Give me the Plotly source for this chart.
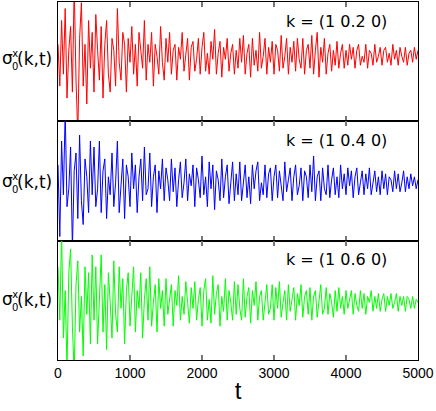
import plotly.graph_objects as go
from plotly.subplots import make_subplots

t = list(range(0, 5001, 25))

sigma_red = [
    0.2, -0.5, 0.6, -0.3, 0.8, -0.7, 0.1, 0.5, -0.6, 1.2, -0.4, -1.3, 0.3, 0.9, -0.5, 0.2, -0.8, 0.6, -0.2, 0.4,
    -0.6, 0.7, 0.1, -0.4, 0.5, -0.7, 0.2, 0.6, -0.3, -0.6, 0.3, 0.1, -0.5, 0.8, -0.1, -0.4, 0.4, 0.2, -0.6, 0.3,
    -0.1, 0.5, -0.3, 0.2, -0.5, 0.4, 0.1, -0.2, 0.6, -0.4, 0.2, -0.1, 0.4, -0.5, 0.2, 0.0, -0.3, 0.5, -0.1, -0.4,
    0.3, -0.1, 0.4, -0.3, 0.1, 0.2, -0.4, 0.15, -0.05, 0.4, -0.25, 0.0, 0.3, -0.4, 0.15, 0.25, -0.25, -0.05, 0.3, -0.3,
    0.15, 0.4, -0.25, 0.05, -0.3, 0.25, -0.05, 0.45, -0.3, 0.05, 0.25, -0.35, 0.15, -0.05, 0.3, -0.25, 0.05, 0.2, -0.3, 0.1,
    -0.2, 0.3, -0.1, 0.35, -0.3, 0.05, 0.2, -0.35, 0.3, -0.15, 0.1, -0.25, 0.4, -0.2, 0.0, 0.3, -0.3, 0.15, -0.1, 0.25,
    -0.3, 0.2, 0.1, -0.25, 0.35, -0.2, 0.0, 0.3, -0.3, 0.15, -0.1, 0.25, -0.25, 0.3, -0.05, -0.2, 0.3, -0.3, 0.1, 0.2,
    -0.2, 0.35, -0.3, 0.1, 0.4, -0.35, 0.15, -0.1, 0.3, -0.3, 0.05, 0.2, -0.25, 0.1, -0.15, 0.25, -0.2, 0.05, 0.2, -0.2,
    0.1, -0.15, 0.2, -0.05, 0.15, -0.2, 0.1, 0.2, -0.15, 0.0, -0.1, 0.2, -0.2, 0.1, 0.05, -0.15, 0.2, -0.1, 0.0, 0.15,
    -0.15, 0.1, 0.15, -0.1, 0.05, -0.15, 0.2, -0.05, 0.1, -0.15, 0.15, 0.0, -0.1, 0.15, -0.15, 0.05, 0.1, -0.1, 0.15, -0.05,
    0.1,
]

sigma_blue = [
    0.3, -0.9, 0.7, -0.2, 1.2, -0.4, -0.1, 0.6, -1.1, 0.2, 0.5, -0.6, 0.8, -0.3, -0.7, 0.4, 0.1, -0.5, 0.7, -0.2,
    0.6, -0.4, -0.1, 0.7, -0.5, 0.2, 0.4, -0.6, 0.1, -0.2, 0.5, -0.4, 0.0, 0.7, -0.5, -0.1, 0.4, -0.6, 0.3, 0.1,
    -0.4, 0.5, -0.1, 0.3, -0.5, 0.1, 0.4, -0.3, 0.6, -0.2, -0.1, 0.5, -0.4, 0.1, 0.3, -0.5, 0.2, -0.1, 0.4, -0.3,
    0.25, 0.05, -0.3, 0.4, -0.15, 0.25, -0.4, 0.05, 0.35, -0.25, 0.0, 0.4, -0.3, 0.15, -0.05, 0.3, -0.4, 0.25, 0.05, -0.25,
    0.45, -0.2, 0.1, -0.4, 0.35, -0.1, 0.3, -0.45, 0.2, 0.05, -0.3, 0.4, -0.25, 0.1, 0.3, -0.35, 0.0, 0.35, -0.3, 0.15,
    -0.2, 0.35, -0.3, 0.05, 0.3, -0.25, 0.1, -0.35, 0.3, -0.1, 0.2, 0.35, -0.3, 0.0, -0.2, 0.3, -0.25, 0.15, 0.25, -0.3,
    0.1, 0.3, -0.25, 0.2, -0.1, -0.3, 0.35, -0.15, 0.05, 0.25, -0.3, 0.1, 0.3, -0.2, -0.05, 0.25, -0.3, 0.2, 0.1, -0.25,
    0.3, -0.15, 0.45, -0.3, 0.1, 0.2, -0.3, 0.25, -0.1, -0.2, 0.3, -0.25, 0.05, 0.25, -0.2, 0.1, -0.25, 0.3, -0.1, 0.15,
    -0.2, 0.25, -0.05, 0.2, -0.25, 0.1, 0.25, -0.2, 0.0, 0.2, -0.2, 0.15, -0.1, 0.25, -0.2, 0.05, 0.2, -0.15, 0.1, -0.2,
    0.2, -0.1, 0.15, -0.2, 0.1, 0.05, -0.15, 0.2, -0.1, 0.15, -0.15, 0.0, 0.2, -0.15, 0.1, -0.1, 0.15, -0.05, 0.1, -0.1,
    0.05,
]

sigma_green = [
    0.6, -0.3, 1.2, -0.6, 0.2, -1.1, 0.5, 0.9, -0.4, -1.2, 0.3, 0.7, -0.5, 0.1, -0.9, 0.6, -0.2, 0.5, -0.7, 0.8,
    -0.3, 0.6, -0.7, 0.1, 0.8, -0.5, 0.3, -0.8, 0.5, 0.0, -0.6, 0.7, -0.2, -0.5, 0.6, -0.1, 0.4, -0.7, 0.2, 0.5,
    -0.4, 0.1, 0.6, -0.5, 0.2, -0.1, 0.5, -0.6, 0.05, 0.4, -0.3, 0.6, -0.4, 0.0, 0.3, -0.5, 0.4, -0.1, 0.2, -0.4,
    0.4, -0.2, 0.05, 0.3, -0.4, 0.2, -0.05, 0.45, -0.3, 0.1, -0.2, 0.35, 0.0, -0.35, 0.25, -0.1, 0.35, -0.3, 0.05, 0.25,
    -0.4, 0.2, 0.4, -0.3, 0.05, -0.35, 0.45, -0.2, 0.15, 0.3, -0.4, 0.1, -0.15, 0.4, -0.3, 0.2, 0.0, -0.3, 0.35, -0.2,
    0.3, -0.1, -0.3, 0.4, -0.25, 0.1, 0.25, -0.35, 0.2, -0.05, 0.35, -0.3, 0.1, 0.2, -0.3, 0.05, 0.3, -0.2, -0.1, 0.3,
    -0.3, 0.25, -0.1, 0.35, -0.25, 0.0, 0.2, -0.3, 0.3, -0.15, 0.1, 0.25, -0.3, 0.15, -0.05, 0.3, -0.25, 0.1, 0.2, -0.2,
    0.25, -0.3, 0.1, 0.2, -0.25, 0.05, 0.3, -0.2, -0.1, 0.25, -0.2, 0.15, 0.0, -0.25, 0.2, -0.15, 0.25, -0.1, 0.1, -0.2,
    0.2, -0.1, 0.05, 0.2, -0.2, 0.15, -0.05, -0.15, 0.2, -0.1, 0.15, -0.2, 0.1, 0.0, 0.2, -0.15, 0.1, -0.1, 0.15, -0.15,
    0.05, 0.15, -0.15, 0.1, -0.05, 0.15, -0.1, 0.0, 0.15, -0.15, 0.1, -0.05, 0.1, -0.15, 0.1, 0.05, -0.1, 0.1, -0.1, 0.05,
    0.0,
]

k_labels = ["k = (1 0.2 0)", "k = (1 0.4 0)", "k = (1 0.6 0)"]
series = [sigma_red, sigma_blue, sigma_green]
colors = ["#ff0000", "#0000ff", "#00ff00"]
y_ranges = [[-1.09, 0.91], [-0.97, 1.03], [-0.97, 1.04]]
x_ticks = [0, 1000, 2000, 3000, 4000, 5000]

TICKFONT = "Liberation Sans, Arial, sans-serif"
LABFONT = "DejaVu Sans, sans-serif"

fig = make_subplots(rows=3, cols=1, shared_xaxes=True, vertical_spacing=0)

for i, (vals, col) in enumerate(zip(series, colors)):
    fig.add_trace(
        go.Scatter(x=t, y=vals, mode="lines", line=dict(color=col, width=1),
                   showlegend=False, hoverinfo="skip"),
        row=i + 1, col=1,
    )
    fig.update_yaxes(range=y_ranges[i], showticklabels=False, ticks="",
                     showgrid=False, zeroline=False, showline=True,
                     linecolor="black", linewidth=1, mirror=True,
                     row=i + 1, col=1)
    fig.update_xaxes(range=[0, 5000], tickvals=x_ticks, ticks="inside",
                     ticklen=5, tickwidth=1.5, tickcolor="#777777",
                     showgrid=False, zeroline=False, showline=True,
                     linecolor="black", linewidth=1, mirror="ticks",
                     showticklabels=(i == 2),
                     tickfont=dict(family=TICKFONT, size=14, color="black"),
                     row=i + 1, col=1)

fig.update_xaxes(title=dict(text="t", font=dict(family=TICKFONT, size=24, color="black"),
                            standoff=2), row=3, col=1)

annotations = []
yrefs = ["y domain", "y2 domain", "y3 domain"]
xrefs = ["x domain", "x2 domain", "x3 domain"]
label_shifts = [3, -1, 0]
for i, yr in enumerate(yrefs):
    annotations.append(dict(
        text=k_labels[i], xref=xrefs[i], yref=yr, x=0.919, y=1,
        xanchor="right", yanchor="middle", yshift=-19,
        showarrow=False, font=dict(family=LABFONT, size=16, color="black")))
    annotations.append(dict(
        text="σ", xref="paper", yref=yr, x=0, y=0.5,
        xanchor="left", yanchor="middle", xshift=-58, yshift=label_shifts[i] + 1,
        showarrow=False, font=dict(family=LABFONT, size=17, color="black")))
    annotations.append(dict(
        text="x<br>0", xref="paper", yref=yr, x=0, y=0.5,
        xanchor="left", yanchor="middle", xshift=-48, yshift=label_shifts[i] - 1,
        showarrow=False, font=dict(family=LABFONT, size=10, color="black")))
    annotations.append(dict(
        text="(k,t)", xref="paper", yref=yr, x=0, y=0.5,
        xanchor="right", yanchor="middle", xshift=-4, yshift=label_shifts[i],
        showarrow=False, font=dict(family=LABFONT, size=17, color="black")))

fig.update_layout(
    width=436, height=411,
    margin=dict(l=58, r=18, t=2, b=51),
    paper_bgcolor="white", plot_bgcolor="white",
    annotations=annotations,
)

fig.write_html("out.html", config={"displayModeBar": False},
               post_script="document.body.style.margin='0';")
